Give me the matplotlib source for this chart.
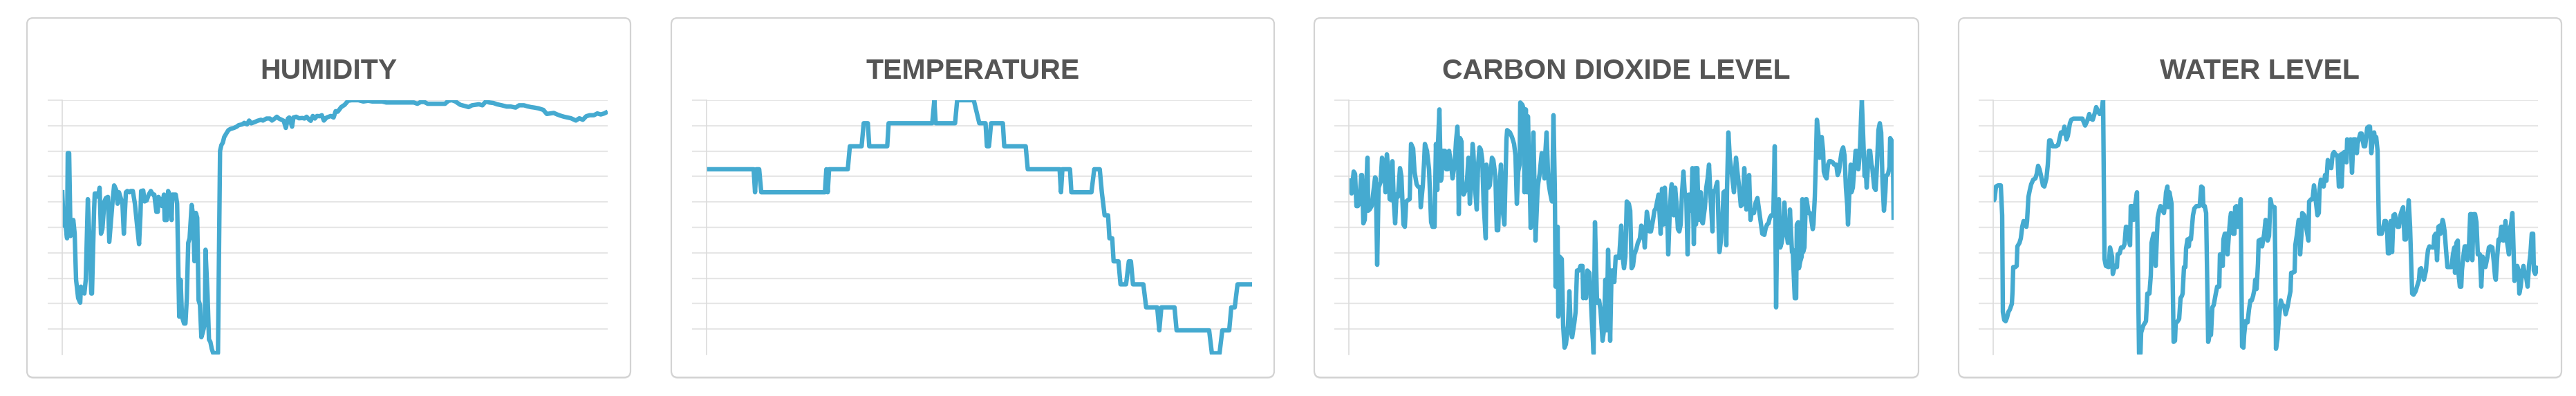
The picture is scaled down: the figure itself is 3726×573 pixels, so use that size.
import matplotlib
matplotlib.use("Agg")
import matplotlib.pyplot as plt
import matplotlib.patches as mpatches
import numpy as np

# readings: (minute, value)
humidity = [(0, 64.7), (2, 50.7), (4, 52.9), (7, 45.7), (8, 79.2), (10, 79.2), (12, 46.6), (13, 48.4),
            (16, 52.9), (18, 47.5), (20, 29.4), (23, 22.2), (26, 20.4), (27, 26.7), (29, 25.8), (32, 24.0),
            (34, 29.4), (37, 61.1), (39, 47.5), (42, 24.0), (43, 24.0), (46, 56.6), (47, 63.3), (50, 63.3),
            (52, 62.0), (54, 65.6), (56, 47.5), (58, 49.3), (61, 60.2), (63, 61.5), (66, 62.0), (68, 44.3),
            (70, 51.1), (73, 61.1), (75, 66.5), (78, 64.7), (80, 59.3), (82, 63.8), (85, 61.1), (87, 59.3),
            (89, 47.5), (92, 63.8), (94, 64.3), (97, 63.8), (99, 64.3), (102, 64.3), (105, 59.3), (108, 51.1),
            (111, 43.4), (113, 54.8), (114, 64.3), (117, 64.5), (119, 60.2), (122, 60.6), (125, 62.9),
            (128, 64.3), (131, 62.9), (133, 62.9), (136, 56.1), (138, 56.1), (139, 62.0), (142, 60.6),
            (144, 58.4), (147, 62.9), (148, 52.9), (151, 52.9), (153, 64.3), (155, 62.9), (158, 52.9),
            (159, 62.9), (162, 62.9), (164, 62.9), (166, 59.3), (168, 29.4), (169, 14.9), (171, 29.4),
            (173, 14.9), (176, 12.2), (178, 12.2), (180, 22.2), (182, 43.9), (184, 45.7), (187, 58.8),
            (189, 54.8), (191, 36.7), (193, 55.7), (195, 53.8), (197, 21.3), (199, 19.5), (201, 6.8),
            (203, 8.6), (206, 12.2), (207, 41.2), (210, 23.1), (212, 5.9), (214, 5.0), (216, 2.3), (218, 0.6),
            (222, 0.5), (225, 0.6), (228, 80.1), (230, 82.4), (232, 83.3), (234, 85.5), (237, 86.9),
            (240, 88.2), (243, 88.7), (248, 89.1), (252, 89.6), (255, 90.2), (260, 90.5), (263, 91.1),
            (267, 90.5), (270, 92.0), (273, 90.9), (278, 91.4), (282, 91.9), (287, 92.3), (290, 92.0),
            (295, 92.8), (300, 92.8), (303, 92.0), (307, 92.8), (310, 93.5), (313, 92.8), (317, 92.3),
            (320, 91.9), (323, 89.1), (326, 92.8), (328, 93.2), (332, 89.6), (334, 93.2), (338, 93.5),
            (342, 92.9), (347, 93.0), (350, 92.8), (353, 93.5), (357, 92.3), (359, 91.9), (362, 93.8),
            (365, 92.8), (368, 93.8), (372, 93.7), (375, 94.1), (378, 92.0), (382, 93.2), (385, 93.5),
            (388, 93.8), (392, 93.2), (395, 95.7), (398, 95.5), (403, 97.3), (408, 98.2), (413, 99.8),
            (418, 100), (428, 100), (435, 99.5), (442, 99.8), (448, 99.5), (462, 99.5), (468, 99.1),
            (482, 99.1), (495, 99.1), (508, 99.1), (513, 98.6), (518, 99.3), (523, 99.3), (528, 98.6),
            (542, 98.6), (553, 98.6), (558, 99.8), (563, 100), (568, 99.5), (575, 98.2), (582, 97.7),
            (587, 97.3), (592, 98.0), (597, 98.2), (602, 98.4), (607, 98.0), (612, 99.5), (617, 99.1),
            (623, 98.9), (628, 98.4), (635, 98.0), (642, 97.5), (648, 97.5), (655, 97.1), (660, 98.0),
            (667, 98.0), (672, 97.6), (677, 97.3), (682, 97.1), (688, 96.8), (695, 96.2), (700, 94.6),
            (705, 94.8), (710, 95.0), (715, 94.4), (720, 93.9), (725, 93.5), (730, 93.2), (735, 92.9),
            (742, 92.0), (747, 92.9), (752, 92.3), (757, 93.7), (762, 94.1), (768, 94.1), (773, 94.8),
            (778, 94.4), (783, 94.8), (788, 95.5)]

temperature = [(0, 27), (68, 27), (70, 26), (72, 27), (76, 27), (79, 26), (171, 26), (173, 27), (175, 26),
               (177, 27), (204, 27), (207, 28), (224, 28), (227, 29), (233, 29), (235, 28), (261, 28),
               (263, 29), (326, 29), (329, 30), (331, 29), (359, 29), (362, 30), (386, 30), (394, 29),
               (403, 29), (405, 28), (408, 28), (411, 29), (428, 29), (430, 28), (461, 28), (464, 27),
               (510, 27), (512, 26), (514, 27), (525, 27), (527, 26), (556, 26), (560, 27), (568, 27),
               (571, 26), (575, 25), (580, 25), (582, 24), (586, 24), (588, 23), (595, 23), (598, 22),
               (606, 22), (610, 23), (613, 23), (616, 22), (631, 22), (635, 21), (651, 21), (654, 20),
               (657, 21), (676, 21), (679, 20), (726, 20), (730, 19), (741, 19), (745, 20), (755, 20),
               (758, 21), (763, 21), (767, 22), (789, 22)]

co2 = [(0, 1165), (2, 1115), (4, 1100), (7, 1195), (9, 1185), (11, 1045), (13, 1045), (15, 1055), (18, 1180),
       (19, 1180), (21, 970), (23, 985), (24, 1055), (27, 1255), (28, 1025), (30, 1030), (33, 1045), (35, 1095),
       (38, 1170), (39, 1165), (41, 790), (43, 1125), (46, 1150), (48, 1255), (51, 1225), (53, 1105), (55, 1270),
       (58, 1175), (59, 1075), (62, 1070), (63, 1240), (65, 1065), (67, 970), (69, 1095), (71, 1085), (74, 1210),
       (76, 1175), (79, 965), (81, 955), (83, 1065), (85, 1070), (88, 1075), (90, 1315), (93, 1295), (95, 1195),
       (98, 1140), (100, 1130), (103, 1125), (104, 1040), (107, 1135), (109, 1245), (110, 1315), (113, 1285),
       (116, 1205), (119, 975), (121, 955), (124, 955), (126, 1315), (128, 1115), (129, 1315), (131, 1465),
       (133, 1155), (134, 1165), (136, 1285), (139, 1285), (141, 1205), (143, 1205), (145, 1285), (148, 1225),
       (150, 1165), (153, 1225), (155, 1325), (157, 1390), (158, 1315), (159, 1010), (161, 1340), (163, 1325),
       (164, 1145), (166, 1095), (169, 1115), (171, 1160), (173, 1255), (175, 1055), (177, 1145), (179, 1315),
       (180, 1285), (183, 1105), (185, 1030), (187, 1225), (189, 1300), (191, 1290), (193, 1245), (195, 1055),
       (198, 905), (199, 1225), (202, 1125), (204, 1135), (207, 1255), (209, 1245), (212, 1175), (214, 940),
       (216, 940), (218, 1125), (220, 1225), (223, 1015), (225, 965), (228, 1335), (229, 1375), (233, 1365),
       (236, 1345), (239, 1315), (241, 1265), (243, 1055), (245, 1195), (247, 1225), (248, 1495), (251, 1485),
       (253, 1465), (254, 1105), (256, 1465), (258, 1105), (259, 1435), (262, 1105), (263, 950), (265, 1105),
       (267, 1365), (269, 1055), (270, 895), (273, 1115), (274, 1145), (276, 1185), (279, 1275), (281, 1265),
       (283, 1165), (284, 1265), (286, 1365), (288, 1195), (289, 1145), (291, 1105), (293, 1075), (294, 1065),
       (296, 1440), (298, 1105), (299, 695), (302, 955), (303, 565), (305, 825), (308, 815), (310, 525),
       (312, 430), (314, 445), (317, 525), (319, 675), (321, 505), (323, 475), (326, 535), (328, 585),
       (330, 765), (333, 765), (335, 785), (338, 785), (339, 645), (342, 735), (343, 645), (345, 765),
       (348, 755), (350, 645), (352, 515), (354, 405), (356, 975), (358, 735), (359, 625), (362, 635),
       (364, 595), (367, 460), (369, 505), (371, 725), (373, 505), (375, 855), (378, 460), (380, 765),
       (382, 765), (384, 715), (386, 825), (388, 825), (389, 825), (391, 820), (394, 960), (396, 825),
       (398, 775), (400, 825), (402, 1065), (405, 1055), (407, 1025), (409, 775), (411, 785), (413, 835),
       (416, 860), (418, 885), (421, 905), (423, 960), (426, 945), (428, 865), (431, 1020), (433, 985),
       (435, 935), (437, 935), (440, 985), (442, 1025), (444, 1035), (446, 1065), (448, 1095), (451, 925),
       (453, 1120), (455, 965), (457, 1125), (459, 1005), (461, 955), (462, 835), (464, 1005), (466, 1115),
       (467, 1140), (470, 1005), (472, 1125), (474, 1055), (476, 945), (478, 935), (480, 965), (482, 1105),
       (484, 1195), (486, 1095), (488, 1095), (490, 835), (492, 1095), (494, 1025), (496, 1095), (497, 1210),
       (499, 880), (501, 1210), (502, 965), (504, 1210), (506, 985), (509, 1105), (511, 975), (512, 970),
       (515, 1040), (517, 1125), (519, 1165), (521, 1225), (523, 1095), (526, 935), (527, 1110), (530, 1110),
       (531, 1130), (533, 1150), (536, 845), (538, 890), (540, 965), (542, 1105), (544, 1110), (546, 875),
       (547, 1115), (549, 1365), (551, 1255), (554, 1185), (557, 1105), (560, 1255), (562, 1195), (565, 1115),
       (567, 1045), (570, 1055), (572, 1210), (575, 1030), (577, 1035), (579, 1180), (581, 985), (583, 1025),
       (586, 1015), (588, 1055), (591, 1080), (593, 1035), (596, 965), (598, 925), (601, 920), (603, 950),
       (605, 965), (607, 970), (609, 995), (611, 1005), (614, 1005), (616, 1305), (618, 605), (620, 1065),
       (622, 1075), (624, 865), (626, 885), (628, 925), (630, 1060), (632, 955), (635, 885), (637, 895),
       (638, 1030), (641, 845), (642, 855), (645, 645), (647, 645), (648, 965), (650, 975), (651, 775),
       (653, 805), (655, 825), (656, 1075), (657, 845), (659, 865), (661, 1075), (662, 1075), (665, 1015),
       (667, 1015), (668, 1005), (671, 945), (672, 965), (674, 1085), (676, 1295), (677, 1420), (679, 1365),
       (681, 1255), (682, 1315), (684, 1345), (686, 1285), (687, 1195), (689, 1175), (691, 1165), (693, 1225),
       (695, 1240), (697, 1240), (700, 1235), (702, 1225), (705, 1225), (707, 1180), (709, 1195), (711, 1245),
       (713, 1285), (715, 1300), (717, 1265), (719, 1125), (721, 1045), (722, 965), (724, 1105), (726, 1225),
       (727, 1105), (729, 1125), (731, 1205), (733, 1285), (735, 1285), (737, 1205), (739, 1270), (741, 1435),
       (742, 1505), (744, 1345), (746, 1175), (747, 1245), (749, 1125), (751, 1225), (752, 1285), (754, 1285),
       (756, 1225), (757, 1215), (760, 1125), (762, 1115), (764, 1225), (766, 1375), (768, 1405), (770, 1365),
       (772, 1145), (774, 1025), (776, 1105), (777, 1175), (780, 1185), (782, 1215), (783, 1340), (786, 1325),
       (787, 1275), (788, 985)]

water_level = [(0, 66.5), (2, 67.5), (4, 73.0), (7, 73.5), (11, 73.5), (13, 60.5), (14, 18.5), (16, 15.0),
               (18, 14.5), (20, 16.0), (22, 18.5), (24, 19.5), (27, 22.0), (28, 27.5), (29, 38.0), (32, 38.0),
               (34, 38.5), (35, 47.0), (38, 48.5), (40, 50.5), (42, 55.5), (44, 58.0), (48, 55.5), (49, 58.0),
               (51, 68.5), (53, 71.5), (55, 74.0), (58, 76.0), (61, 76.5), (63, 78.5), (65, 82.0), (67, 80.5),
               (69, 78.0), (72, 73.5), (74, 73.0), (77, 76.5), (79, 82.5), (81, 93.0), (83, 93.0), (86, 90.5),
               (91, 90.5), (94, 91.0), (98, 96.5), (101, 96.0), (103, 99.0), (106, 93.5), (108, 95.0),
               (111, 100.5), (113, 102.0), (116, 102.5), (121, 102.5), (129, 102.5), (133, 99.5), (136, 101.5),
               (139, 104.5), (141, 102.5), (144, 102.0), (147, 105.0), (149, 107.5), (152, 105.5), (154, 104.5),
               (157, 106.5), (159, 110.5), (161, 41.5), (163, 38.5), (167, 38.0), (169, 46.5), (172, 42.5),
               (173, 35.0), (176, 38.5), (179, 38.0), (180, 43.5), (183, 44.0), (185, 46.5), (188, 46.5),
               (190, 48.0), (192, 55.5), (193, 55.5), (195, 52.5), (198, 47.5), (199, 64.5), (201, 64.5),
               (203, 58.5), (205, 64.5), (208, 70.5), (211, 0.5), (213, 0.5), (214, 9.5), (217, 12.5),
               (219, 13.5), (221, 14.5), (223, 26.5), (226, 26.5), (228, 34.5), (229, 48.5), (232, 52.5),
               (233, 52.5), (235, 38.5), (237, 52.5), (238, 59.5), (240, 62.5), (242, 64.5), (244, 63.5),
               (247, 61.5), (249, 66.5), (250, 70.5), (252, 73.0), (253, 64.0), (255, 70.5), (258, 65.5),
               (261, 5.5), (263, 6.0), (264, 13.5), (267, 14.5), (269, 15.5), (271, 24.5), (273, 25.5),
               (274, 26.5), (276, 38.0), (278, 38.0), (279, 46.0), (281, 50.0), (283, 47.0), (284, 50.5),
               (286, 50.0), (289, 60.5), (291, 63.5), (294, 64.5), (298, 64.5), (299, 65.5), (301, 73.0),
               (303, 72.5), (304, 64.5), (306, 64.5), (308, 61.5), (311, 5.5), (313, 8.5), (315, 8.5),
               (317, 20.5), (319, 21.5), (322, 26.5), (324, 29.5), (327, 29.5), (328, 43.5), (330, 43.5),
               (332, 38.5), (333, 50.0), (335, 52.5), (338, 52.5), (339, 43.5), (341, 52.5), (343, 59.5),
               (344, 61.5), (347, 52.5), (349, 52.5), (350, 64.0), (352, 64.5), (354, 55.5), (356, 59.5),
               (358, 67.5), (360, 3.5), (362, 3.0), (363, 8.5), (365, 14.5), (368, 14.0), (370, 19.5),
               (372, 23.5), (374, 23.5), (376, 25.5), (378, 28.5), (379, 32.5), (381, 28.5), (383, 39.5),
               (384, 49.5), (387, 50.0), (389, 47.0), (392, 52.5), (394, 58.5), (397, 49.5), (399, 51.5),
               (401, 67.5), (403, 64.5), (407, 64.0), (408, 42.5), (409, 2.5), (411, 6.5), (413, 14.5),
               (416, 23.5), (418, 21.5), (421, 21.0), (423, 17.5), (426, 21.0), (428, 24.5), (430, 27.5),
               (431, 35.5), (433, 35.5), (436, 36.0), (437, 47.5), (439, 51.5), (441, 56.5), (442, 58.5),
               (444, 43.5), (446, 52.5), (447, 61.5), (450, 60.5), (452, 56.5), (456, 49.5), (457, 66.5),
               (460, 67.5), (462, 67.5), (464, 73.5), (466, 68.5), (469, 60.5), (471, 61.5), (472, 71.5),
               (474, 76.0), (476, 75.0), (478, 73.0), (480, 78.0), (482, 75.5), (484, 84.5), (486, 81.5),
               (489, 81.0), (491, 87.0), (493, 88.0), (496, 86.5), (498, 86.5), (500, 73.0), (501, 73.5),
               (503, 87.0), (504, 73.0), (506, 87.5), (508, 88.0), (511, 83.5), (512, 93.5), (515, 92.5),
               (517, 93.5), (519, 79.0), (521, 93.5), (524, 93.5), (526, 87.5), (527, 91.5), (531, 96.0),
               (533, 96.0), (536, 90.5), (538, 90.5), (540, 96.0), (541, 98.5), (543, 99.0), (545, 99.0),
               (547, 87.5), (549, 93.5), (551, 96.5), (552, 94.0), (554, 94.5), (556, 88.5), (558, 52.5),
               (560, 52.5), (562, 52.5), (565, 56.5), (566, 58.0), (568, 58.0), (570, 52.5), (571, 44.0),
               (573, 44.0), (575, 58.0), (577, 44.5), (579, 60.5), (581, 61.0), (583, 58.0), (585, 55.5),
               (587, 55.5), (589, 60.5), (591, 62.5), (593, 64.0), (595, 50.0), (597, 50.0), (598, 60.5),
               (600, 62.0), (601, 67.0), (603, 55.5), (606, 26.5), (608, 26.0), (611, 27.5), (613, 29.5),
               (616, 32.5), (617, 37.0), (619, 37.5), (622, 34.5), (623, 32.5), (626, 36.5), (627, 40.5),
               (629, 45.5), (631, 47.0), (635, 46.5), (637, 46.5), (638, 51.5), (640, 52.5), (642, 41.0),
               (644, 55.5), (646, 56.0), (647, 52.5), (650, 58.5), (651, 57.5), (653, 53.5), (655, 45.5),
               (657, 38.0), (661, 38.0), (663, 38.0), (665, 43.5), (667, 46.5), (668, 35.5), (670, 48.5),
               (672, 49.5), (673, 35.5), (675, 29.5), (677, 29.5), (678, 36.5), (680, 42.5), (682, 47.0),
               (684, 47.0), (686, 41.0), (688, 45.5), (690, 61.0), (692, 61.0), (693, 41.0), (695, 61.0),
               (697, 61.0), (699, 57.5), (701, 43.5), (702, 44.0), (704, 43.5), (706, 29.5), (708, 42.5),
               (710, 38.5), (712, 38.0), (715, 42.5), (717, 46.5), (719, 47.0), (722, 46.5), (724, 40.5),
               (726, 33.5), (727, 32.5), (729, 42.5), (731, 50.0), (733, 49.5), (735, 55.5), (736, 55.5),
               (738, 49.5), (740, 53.5), (741, 58.0), (743, 49.5), (746, 43.5), (747, 54.5), (749, 56.5),
               (751, 61.5), (752, 52.5), (754, 32.0), (756, 36.5), (758, 38.5), (760, 36.5), (761, 26.5),
               (763, 29.5), (765, 35.5), (767, 38.5), (769, 34.5), (771, 33.5), (773, 29.5), (775, 38.5),
               (777, 43.5), (779, 52.5), (781, 52.5), (782, 36.5), (784, 35.0), (786, 36.5), (788, 38.5)]

titles = ["HUMIDITY", "TEMPERATURE", "CARBON DIOXIDE LEVEL", "WATER LEVEL"]
series = [humidity, temperature, co2, water_level]
y_ranges = [(0, 100), (18.95, 30), (400, 1505), (0, 110.5)]

W, H = 3726, 573
cards = [(39, 912), (971, 1843), (1901, 2775), (2833, 3705)]
plots = [(90, 879), (1022, 1811), (1951, 2739), (2883, 3671)]
line_color = "#45aad0"
grid_color = "#e6e6e6"

fig = plt.figure(figsize=(W / 100, H / 100), dpi=100)
bg = fig.add_axes([0, 0, 1, 1])
bg.set_xlim(0, W)
bg.set_ylim(H, 0)
bg.axis("off")

for (c0, c1), (p0, p1), title, data, (lo, hi) in zip(cards, plots, titles, series, y_ranges):
    shadow = mpatches.FancyBboxPatch((c0, 28), c1 - c0, 520, boxstyle="round,pad=0,rounding_size=9",
                                     fc="#e9e9e9", ec="none")
    bg.add_patch(shadow)
    card = mpatches.FancyBboxPatch((c0, 26), c1 - c0, 520, boxstyle="round,pad=0,rounding_size=9",
                                   fc="white", ec="#d3d3d3", lw=1.6)
    bg.add_patch(card)
    bg.text((c0 + c1) / 2, 114, title, ha="center", va="baseline", fontsize=29.5,
            fontweight="bold", color="#555555", family="Liberation Sans")

    ax = fig.add_axes([p0 / W, 1 - 513 / H, (p1 - p0) / W, (513 - 145) / H])
    t = [p[0] for p in data]
    v = [p[1] for p in data]
    ax.plot(t, v, color=line_color, lw=4.6, solid_joinstyle="round", solid_capstyle="butt")
    ax.set_xlim(0, 788)
    ax.set_ylim(lo, hi)
    ax.set_yticks(np.linspace(lo, hi, 11)[1:])
    ax.set_xticks([])
    ax.yaxis.grid(True, color=grid_color, lw=1.6)
    ax.set_axisbelow(True)
    ax.tick_params(axis="y", length=15, width=1.6, color=grid_color, labelleft=False)
    for s in ["top", "right", "bottom"]:
        ax.spines[s].set_visible(False)
    ax.spines["left"].set_color("#dcdcdc")
    ax.spines["left"].set_linewidth(1.2)
    ax.patch.set_alpha(0)

fig.savefig("out.png", dpi=100)
